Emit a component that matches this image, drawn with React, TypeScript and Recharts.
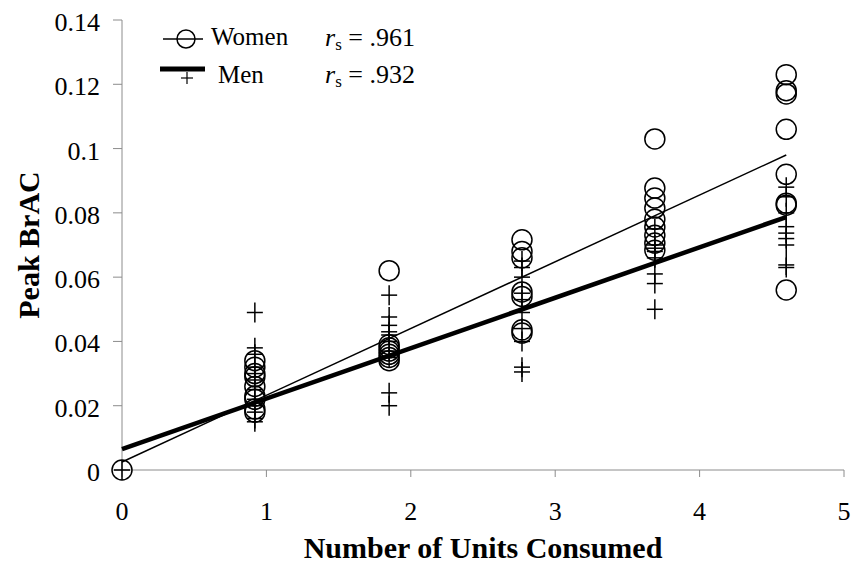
import React from "react";
import { ScatterChart, Scatter, XAxis, YAxis } from "recharts";

// units consumed for each dose group
const womenX = [0, 0.92, 0.92, 0.92, 0.92, 0.92, 0.92, 0.92, 0.92, 0.92, 1.85, 1.85, 1.85, 1.85, 1.85, 1.85, 1.85, 2.77, 2.77, 2.77, 2.77, 2.77, 2.77, 2.77, 3.69, 3.69, 3.69, 3.69, 3.69, 3.69, 3.69, 3.69, 3.69, 4.6, 4.6, 4.6, 4.6, 4.6, 4.6, 4.6, 4.6];
const womenY = [0, 0.034, 0.032, 0.03, 0.029, 0.026, 0.023, 0.022, 0.019, 0.018, 0.062, 0.039, 0.038, 0.037, 0.036, 0.035, 0.034, 0.0716, 0.068, 0.066, 0.0554, 0.054, 0.0436, 0.0426, 0.103, 0.0877, 0.0846, 0.0815, 0.078, 0.0756, 0.073, 0.0706, 0.0684, 0.123, 0.118, 0.117, 0.106, 0.092, 0.083, 0.0824, 0.056];

const menX = [0, 0.92, 0.92, 0.92, 0.92, 0.92, 0.92, 0.92, 0.92, 0.92, 0.92, 0.92, 0.92, 1.85, 1.85, 1.85, 1.85, 1.85, 1.85, 1.85, 1.85, 1.85, 1.85, 2.77, 2.77, 2.77, 2.77, 2.77, 2.77, 2.77, 2.77, 2.77, 2.77, 3.69, 3.69, 3.69, 3.69, 3.69, 3.69, 3.69, 3.69, 4.6, 4.6, 4.6, 4.6, 4.6, 4.6, 4.6, 4.6, 4.6];
const menY = [0, 0.049, 0.038, 0.036, 0.032, 0.03, 0.028, 0.025, 0.022, 0.02, 0.018, 0.016, 0.015, 0.0544, 0.0476, 0.045, 0.043, 0.042, 0.04, 0.037, 0.035, 0.024, 0.02, 0.065, 0.063, 0.06, 0.055, 0.053, 0.049, 0.044, 0.04, 0.032, 0.0305, 0.075, 0.07, 0.069, 0.068, 0.066, 0.061, 0.058, 0.05, 0.088, 0.085, 0.08, 0.0757, 0.0737, 0.072, 0.07, 0.0638, 0.063];

// fitted trend lines (intercept, end value)
const fitX = [0, 4.6];
const womenFitY = [0.0025, 0.098];
const menFitY = [0.0065, 0.0787];

const xTicks = [0, 1, 2, 3, 4, 5];
const yTicks = [0, 0.02, 0.04, 0.06, 0.08, 0.1, 0.12, 0.14];

const women = womenX.map((x, i) => ({ x, y: womenY[i] }));
const men = menX.map((x, i) => ({ x, y: menY[i] }));
const womenFit = fitX.map((x, i) => ({ x, y: womenFitY[i] }));
const menFit = fitX.map((x, i) => ({ x, y: menFitY[i] }));

const serif = "'Liberation Serif', 'Times New Roman', serif";
const axisGray = "#8c8c8c";

const Circle = (p: any) => (
  <circle cx={p.cx} cy={p.cy} r={10} fill="none" stroke="#000" strokeWidth={1.5} />
);

const Plus = (p: any) => (
  <g stroke="#000" strokeWidth={1.5}>
    <line x1={p.cx - 8} x2={p.cx + 8} y1={p.cy} y2={p.cy} />
    <line x1={p.cx} x2={p.cx} y1={p.cy - 10} y2={p.cy + 10} />
  </g>
);

const Nothing = () => <g />;

const XTick = (p: any) => (
  <text x={p.x} y={p.y + 43} textAnchor="middle" fontSize={26} fontFamily={serif} fill="#000">
    {p.payload.value}
  </text>
);

const YTick = (p: any) => (
  <text x={p.x} y={p.y + 11} textAnchor="end" fontSize={26} fontFamily={serif} fill="#000">
    {p.payload.value}
  </text>
);

export default function App() {
  return (
    <div style={{ position: "absolute", left: 0, top: 0, width: 851, height: 567, background: "#fff" }}>
      <ScatterChart
        width={851}
        height={567}
        margin={{ top: 20, right: 7, left: 0, bottom: 0 }}
      >
        <XAxis
          type="number"
          dataKey="x"
          domain={[0, 5]}
          ticks={xTicks}
          stroke={axisGray}
          tickSize={7}
          tickMargin={0}
          height={97}
          tick={XTick}
          label={{
            value: "Number of Units Consumed",
            position: "insideBottom",
            offset: 9,
            style: { fill: "#000", fontSize: 30, fontWeight: "bold", fontFamily: serif },
          }}
        />
        <YAxis
          type="number"
          dataKey="y"
          domain={[0, 0.14]}
          ticks={yTicks}
          stroke={axisGray}
          tickSize={9}
          tickMargin={13}
          width={122}
          tick={YTick}
          label={{
            value: "Peak BrAC",
            angle: -90,
            position: "insideLeft",
            offset: 28,
            style: { fill: "#000", fontSize: 30, fontWeight: "bold", fontFamily: serif, textAnchor: "middle" },
          }}
        />
        <Scatter data={women} shape={Circle} isAnimationActive={false} />
        <Scatter data={men} shape={Plus} isAnimationActive={false} />
        <Scatter
          data={womenFit}
          shape={Nothing}
          line={{ stroke: "#000", strokeWidth: 1.5 }}
          isAnimationActive={false}
        />
        <Scatter
          data={menFit}
          shape={Nothing}
          line={{ stroke: "#000", strokeWidth: 4.5 }}
          isAnimationActive={false}
        />
      </ScatterChart>
      <svg
        width={300}
        height={90}
        style={{ position: "absolute", left: 150, top: 10, fontFamily: serif }}
      >
        <line x1={13} x2={53} y1={29} y2={29} stroke="#000" strokeWidth={1.5} />
        <circle cx={36} cy={29} r={9} fill="none" stroke="#000" strokeWidth={1.5} />
        <text x={61} y={35} fontSize={25}>Women</text>
        <text x={175} y={36} fontSize={26}>
          <tspan fontStyle="italic">r</tspan>
          <tspan fontSize={17} dy={4}>s</tspan>
          <tspan dy={-4}> = .961</tspan>
        </text>
        <line x1={10} x2={55} y1={59} y2={59} stroke="#000" strokeWidth={5} />
        <line x1={31} x2={43} y1={68} y2={68} stroke="#000" strokeWidth={1.2} />
        <line x1={37} x2={37} y1={62} y2={74} stroke="#000" strokeWidth={1.2} />
        <text x={68} y={73} fontSize={25}>Men</text>
        <text x={175} y={73} fontSize={26}>
          <tspan fontStyle="italic">r</tspan>
          <tspan fontSize={17} dy={4}>s</tspan>
          <tspan dy={-4}> = .932</tspan>
        </text>
      </svg>
    </div>
  );
}
